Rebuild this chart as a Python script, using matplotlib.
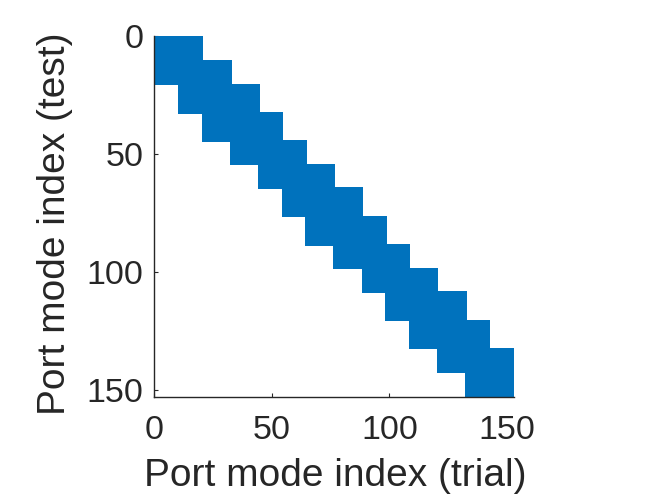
import numpy as np
import matplotlib
matplotlib.use('Agg')
import matplotlib.pyplot as plt

group_sizes = [10, 10, 12, 12, 10, 10, 12, 12, 10, 10, 12, 12, 10, 10]
tick_values = [0, 50, 100, 150]
x_label = 'Port mode index (trial)'
y_label = 'Port mode index (test)'

# block tridiagonal coupling pattern: each group couples to itself and its neighbours
n = sum(group_sizes)
edges = np.concatenate([[0], np.cumsum(group_sizes)])
pattern = np.zeros((n, n), dtype=bool)
for k in range(len(group_sizes)):
    r0, r1 = edges[k], edges[k + 1]
    c0 = edges[max(k - 1, 0)]
    c1 = edges[min(k + 2, len(group_sizes))]
    pattern[r0:r1, c0:c1] = True
rows, cols = np.nonzero(pattern)

plt.rcParams['font.family'] = ['Liberation Sans', 'DejaVu Sans']
ink = '#262626'

fig = plt.figure(figsize=(6.46, 4.98), dpi=100)
ax = fig.add_axes([0.2389, 0.2028, 0.5567, 0.7247])

ax.plot(cols + 1, rows + 1, linestyle='none', marker='s', markersize=3.05,
        markeredgewidth=0, color='#0072BD')

ax.set_xlim(0, n + 1)
ax.set_ylim(n + 1, 0)
ax.set_xticks(tick_values)
ax.set_yticks(tick_values)

for side in ['top', 'right']:
    ax.spines[side].set_visible(False)
for side in ['left', 'bottom']:
    ax.spines[side].set_color(ink)
    ax.spines[side].set_linewidth(1.0)

ax.tick_params(direction='in', length=3, width=0.8, colors=ink, labelsize=24.5)
ax.tick_params(axis='x', pad=13)
ax.tick_params(axis='y', pad=8)

ax.set_xlabel(x_label, fontsize=28, color=ink)
ax.set_ylabel(y_label, fontsize=28, color=ink)
ax.xaxis.set_label_coords(0.502, -0.169)
ax.yaxis.set_label_coords(-0.226, 0.481)

plt.savefig('out.png', dpi=100)
plt.close()
